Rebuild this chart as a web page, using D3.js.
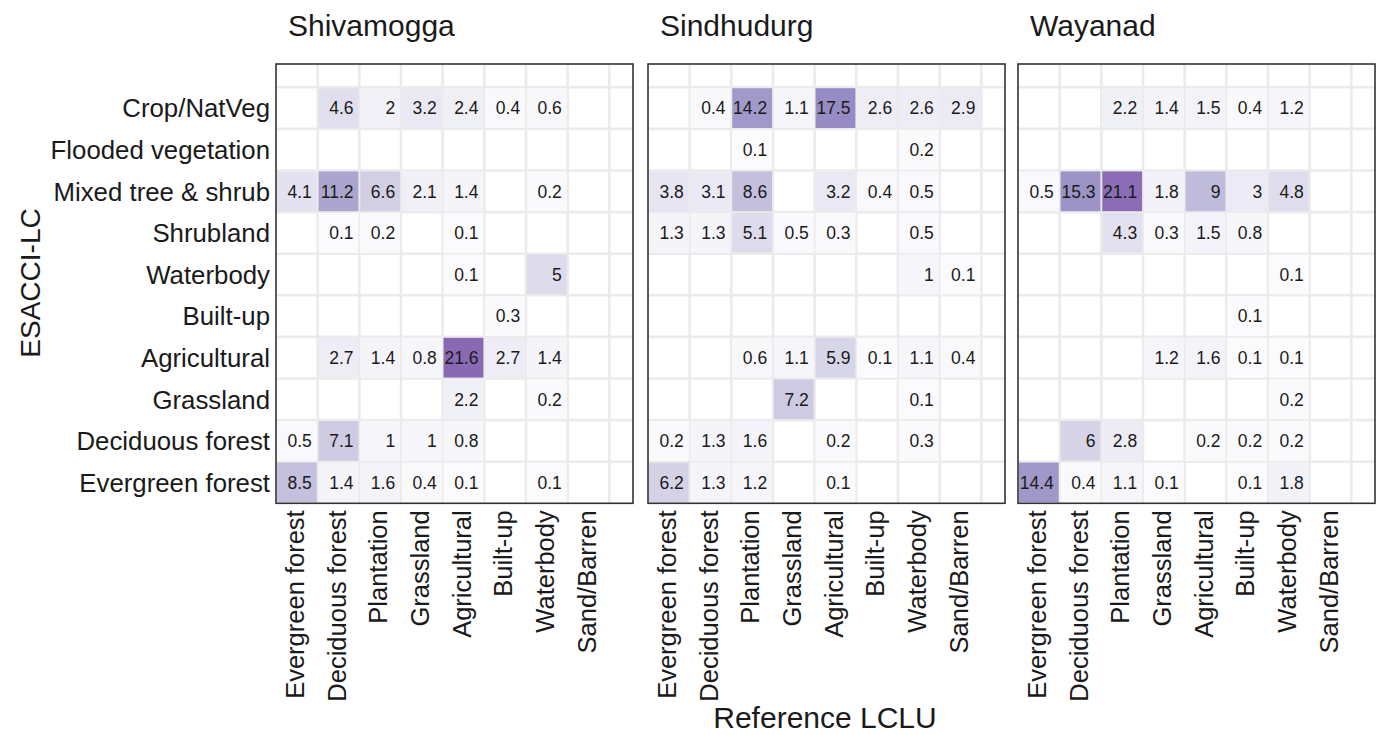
<!DOCTYPE html>
<html><head><meta charset="utf-8">
<script src="https://cdn.jsdelivr.net/npm/d3@7"></script>
<style>body{margin:0;background:#fff;}svg{display:block;font-family:"Liberation Sans",Arial,sans-serif;}</style>
</head><body><svg id="chart" width="1380" height="735"></svg>
<script>
const regions = ["Shivamogga", "Sindhudurg", "Wayanad"];
const refClasses = ["Evergreen forest","Deciduous forest","Plantation","Grassland","Agricultural","Built-up","Waterbody","Sand/Barren"];
const esaClasses = ["Crop/NatVeg","Flooded vegetation","Mixed tree & shrub","Shrubland","Waterbody","Built-up","Agricultural","Grassland","Deciduous forest","Evergreen forest"];
const N = null;
// rows follow esaClasses order, columns follow refClasses order
const shivamogga = [
  [N,4.6,2,3.2,2.4,0.4,0.6,N],
  [N,N,N,N,N,N,N,N],
  [4.1,11.2,6.6,2.1,1.4,N,0.2,N],
  [N,0.1,0.2,N,0.1,N,N,N],
  [N,N,N,N,0.1,N,5,N],
  [N,N,N,N,N,0.3,N,N],
  [N,2.7,1.4,0.8,21.6,2.7,1.4,N],
  [N,N,N,N,2.2,N,0.2,N],
  [0.5,7.1,1,1,0.8,N,N,N],
  [8.5,1.4,1.6,0.4,0.1,N,0.1,N]
];
const sindhudurg = [
  [N,0.4,14.2,1.1,17.5,2.6,2.6,2.9],
  [N,N,0.1,N,N,N,0.2,N],
  [3.8,3.1,8.6,N,3.2,0.4,0.5,N],
  [1.3,1.3,5.1,0.5,0.3,N,0.5,N],
  [N,N,N,N,N,N,1,0.1],
  [N,N,N,N,N,N,N,N],
  [N,N,0.6,1.1,5.9,0.1,1.1,0.4],
  [N,N,N,7.2,N,N,0.1,N],
  [0.2,1.3,1.6,N,0.2,N,0.3,N],
  [6.2,1.3,1.2,N,0.1,N,N,N]
];
const wayanad = [
  [N,N,2.2,1.4,1.5,0.4,1.2,N],
  [N,N,N,N,N,N,N,N],
  [0.5,15.3,21.1,1.8,9,3,4.8,N],
  [N,N,4.3,0.3,1.5,0.8,N,N],
  [N,N,N,N,N,N,0.1,N],
  [N,N,N,N,N,0.1,N,N],
  [N,N,N,1.2,1.6,0.1,0.1,N],
  [N,N,N,N,N,N,0.2,N],
  [N,6,2.8,N,0.2,0.2,0.2,N],
  [14.4,0.4,1.1,0.1,N,0.1,1.8,N]
];
const panelData = [shivamogga, sindhudurg, wayanad];

const svg = d3.select("#chart");
const panelLefts = [276, 648, 1018];
const panelTop = 64, panelBottom = 503.3;
const cw = 41.66, rh = 41.6;
const panelW = 357;
const gridTop = panelBottom - esaClasses.length * rh;

const color = d3.scaleLinear()
  .domain([0, 2.5, 5, 8.6, 11.2, 15, 17.5, 21.6])
  .range(["#fbfbfd","#efeef6","#dedcec","#c3bfdd","#aca6cf","#9d95c8","#968cc3","#8a69b3"])
  .clamp(true);

panelData.forEach((data, pi) => {
  const left = panelLefts[pi];
  const g = svg.append("g").attr("transform", `translate(${left},0)`);
  const x = d3.scaleBand().domain(refClasses).range([0, refClasses.length * cw]);
  const y = d3.scaleBand().domain(esaClasses).range([gridTop, panelBottom]);

  const xs = d3.range(1, refClasses.length + 1).map(i => i * cw);
  g.selectAll("line.vg").data(xs).join("line")
    .attr("x1", d => d).attr("x2", d => d)
    .attr("y1", panelTop).attr("y2", panelBottom)
    .attr("stroke", "#ebebeb").attr("stroke-width", 2.6);
  const ys = d3.range(0, esaClasses.length).map(i => gridTop + i * rh);
  g.selectAll("line.hg").data(ys).join("line")
    .attr("x1", 0).attr("x2", panelW)
    .attr("y1", d => d).attr("y2", d => d)
    .attr("stroke", "#ebebeb").attr("stroke-width", 2.6);

  const cells = [];
  data.forEach((row, ri) => row.forEach((v, ci) => {
    if (v !== null) cells.push({r: esaClasses[ri], c: refClasses[ci], v});
  }));

  g.selectAll("rect.cell").data(cells).join("rect")
    .attr("x", d => x(d.c) + 0.9).attr("y", d => y(d.r) + 0.9)
    .attr("width", x.bandwidth() - 1.8).attr("height", y.bandwidth() - 1.8)
    .attr("fill", d => color(d.v));

  const clipId = "clip" + pi;
  g.append("clipPath").attr("id", clipId).append("rect")
    .attr("x", 0).attr("y", panelTop).attr("width", panelW).attr("height", panelBottom - panelTop);

  g.append("g").attr("clip-path", `url(#${clipId})`)
    .selectAll("text.val").data(cells).join("text")
    .attr("x", d => x(d.c) + x.bandwidth() / 2 + 15)
    .attr("y", d => y(d.r) + y.bandwidth() / 2)
    .attr("dy", "0.36em")
    .attr("text-anchor", "end")
    .attr("font-size", 17.5)
    .attr("fill", "#1a1a1a")
    .text(d => d.v);

  g.append("rect").attr("x", 0).attr("y", panelTop)
    .attr("width", panelW).attr("height", panelBottom - panelTop)
    .attr("fill", "none").attr("stroke", "#333").attr("stroke-width", 1.6);

  g.append("text").attr("x", 12).attr("y", 36)
    .attr("font-size", 30).attr("fill", "#1a1a1a").text(regions[pi]);

  g.selectAll("text.xt").data(refClasses).join("text")
    .attr("transform", d => `translate(${x(d) + x.bandwidth() / 2 - 2},${panelBottom + 7}) rotate(-90)`)
    .attr("text-anchor", "end").attr("dy", "0.36em")
    .attr("font-size", 25.5).attr("fill", "#1a1a1a").text(d => d);

  if (pi === 0) {
    g.selectAll("text.yt").data(esaClasses).join("text")
      .attr("x", -6).attr("y", d => y(d) + y.bandwidth() / 2)
      .attr("dy", "0.36em").attr("text-anchor", "end")
      .attr("font-size", 25.8).attr("fill", "#1a1a1a").text(d => d);
  }
});

svg.append("text").attr("transform", "translate(40,283) rotate(-90)")
  .attr("text-anchor", "middle").attr("font-size", 28).attr("fill", "#1a1a1a").text("ESACCI-LC");
svg.append("text").attr("x", 825).attr("y", 728)
  .attr("text-anchor", "middle").attr("font-size", 30).attr("fill", "#1a1a1a").text("Reference LCLU");
</script></body></html>
